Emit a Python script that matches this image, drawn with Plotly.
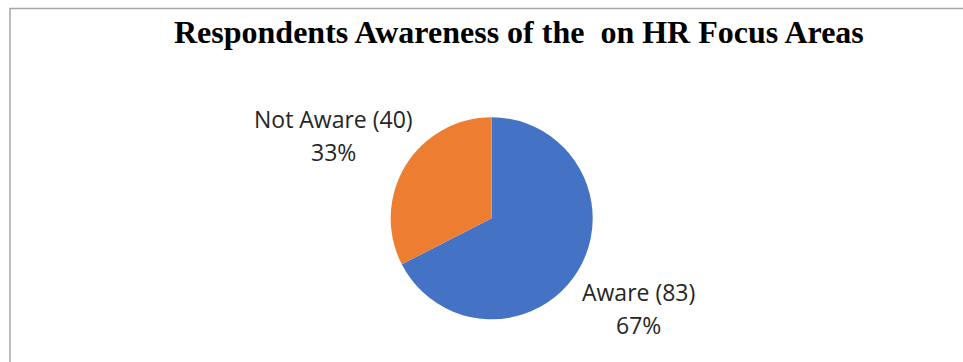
import plotly.graph_objects as go

# Survey responses: awareness of HR focus areas
categories = ["Aware", "Not Aware"]
counts = [83, 40]
colors = ["#4472C4", "#ED7D31"]

W, H = 963, 362
total = sum(counts)
pct = [round(100 * c / total) for c in counts]

# pie geometry in pixels
cx, cy, r = 491.7, 218.3, 101

fig = go.Figure(
    go.Pie(
        labels=categories,
        values=counts,
        sort=False,
        direction="clockwise",
        rotation=0,
        marker=dict(colors=colors, line=dict(width=0)),
        textinfo="none",
        hoverinfo="label+value+percent",
        showlegend=False,
        domain=dict(
            x=[(cx - r) / W, (cx + r) / W],
            y=[(H - cy - r) / H, (H - cy + r) / H],
        ),
    )
)

# data labels: name/count line and percentage line (pixel centres)
label_pos = {"Aware": (638, 292), "Not Aware": (333, 119)}
line_gap = 33
label_font = dict(family="Open Sans", size=23, color="#262626")
for cat, n, p in zip(categories, counts, pct):
    px, py = label_pos[cat]
    for k, txt in enumerate([f"{cat} ({n})", f"{p}%"]):
        fig.add_annotation(
            x=px / W, y=1 - (py + k * line_gap) / H, xref="paper", yref="paper",
            text=txt, showarrow=False, align="center",
            xanchor="center", yanchor="middle", font=label_font,
        )

# chart title
fig.add_annotation(
    x=519 / W, y=1 - 32 / H, xref="paper", yref="paper",
    text="<b>Respondents Awareness of the  on HR Focus Areas</b>",
    showarrow=False, xanchor="center", yanchor="middle",
    font=dict(family="Liberation Serif", size=32, color="#000000"),
)

# chart area frame (open on the right and bottom)
fig.add_shape(
    type="rect", xref="paper", yref="paper",
    x0=10 / W, x1=1.1, y0=-0.1, y1=1 - 8.5 / H,
    line=dict(color="#A6A6A6", width=1.5),
    fillcolor="rgba(0,0,0,0)",
)

fig.update_layout(
    width=W, height=H,
    margin=dict(l=0, r=0, t=0, b=0),
    paper_bgcolor="white",
    plot_bgcolor="white",
)

fig.write_html("out.html")
